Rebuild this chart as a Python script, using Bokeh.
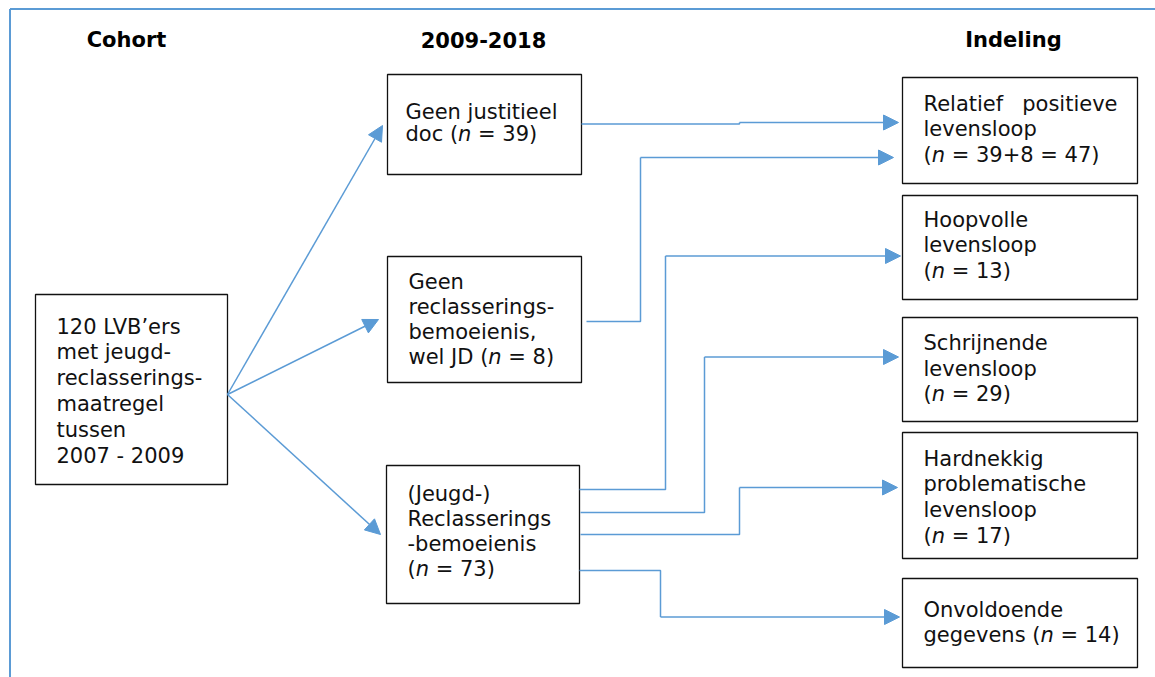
from bokeh.plotting import figure
from bokeh.models import Range1d, Arrow, NormalHead, ColumnDataSource
from bokeh.core.properties import value
from bokeh.embed import file_html
from bokeh.resources import INLINE

# ---------------- data ----------------
column_headers = ["Cohort", "2009-2018", "Indeling"]
cohort_size = 120
cohort_lines = [f"{cohort_size} LVB’ers", "met jeugd-", "reclasserings-",
                "maatregel", "tussen", "2007 - 2009"]
period_n = [39, 8, 73]
period_lines = [
    ["Geen justitieel", "doc (*n* = {})"],
    ["Geen", "reclasserings-", "bemoeienis,", "wel JD (*n* = {})"],
    ["(Jeugd-)", "Reclasserings", "-bemoeienis", "(*n* = {})"],
]
outcome_n = [47, 13, 29, 17, 14]
outcome_lines = [
    ["Relatief|positieve", "levensloop", "(*n* = 39+8 = {})"],
    ["Hoopvolle", "levensloop", "(*n* = {})"],
    ["Schrijnende", "levensloop", "(*n* = {})"],
    ["Hardnekkig", "problematische", "levensloop", "(*n* = {})"],
    ["Onvoldoende", "gegevens (*n* = {})"],
]
flows = [(0, 0), (1, 0), (2, 1), (2, 2), (2, 3), (2, 4)]

# ---------------- layout (pixel space) ----------------
FONT = "DejaVu Sans"
FS = 21
BLUE = "#5b9bd5"
TEXT_DY = -7
header_x = [126, 483, 1013]
header_y = 46
cohort_box = (35, 294, 227, 484)
cohort_text = (56, 333, 25.9)
period_boxes = [(387, 74, 581, 174), (387, 256, 581, 382), (386, 465, 579, 603)]
period_text = [(405, 118.5, 22), (408, 288, 25.3), (407, 500, 25)]
outcome_boxes = [(902, 77, 1137, 183), (902, 195, 1137, 299), (902, 317, 1137, 421),
                 (902, 432, 1137, 558), (902, 578, 1137, 667)]
outcome_text = [(923, 110, 25.8), (923, 226, 25.5), (923, 349.5, 25.5),
                (923, 465, 25.7), (923, 616, 25.7)]
justify_right = 1117
fan_origin = (227, 394)
fan_tips = [(382, 125), (378, 319), (380, 534)]
routes = [
    [(581, 123.5), (739, 123.5), (739, 122), (898, 122)],
    [(586, 321), (640, 321), (640, 157), (893, 157)],
    [(579, 489), (665, 489), (665, 255.5), (900, 255.5)],
    [(580, 512), (704, 512), (704, 356.5), (898, 356.5)],
    [(580, 534), (739, 534), (739, 487), (897, 487)],
    [(579, 570), (660, 570), (660, 616.5), (899, 616.5)],
]

# DejaVu Sans advance widths (units per 2048 em)
ADV = {" ": 651, "(": 799, ")": 799, "c": 1126, "d": 1300, "e": 1260, "g": 1300,
       "l": 569, "n": 1298, "o": 1253, "s": 1067, "v": 1212, "w": 1675,
       "D": 1577, "J": 604, "=": 1716, "+": 1716}


def tw(s):
    return sum(ADV.get(ch, 1303) for ch in s) / 2048.0 * FS


W, H = 1155, 677
p = figure(width=W, height=H, x_range=Range1d(0, W), y_range=Range1d(H, 0),
           output_backend="svg", toolbar_location=None,
           x_axis_location=None, y_axis_location=None, min_border=0)
p.grid.visible = False
p.outline_line_color = None
p.background_fill_color = "white"
p.border_fill_color = "white"

# outer frame (left + top)
p.line([9.5, 9.5], [H, 8.5], line_color=BLUE, line_width=2)
p.line([9.5, W], [8.5, 8.5], line_color=BLUE, line_width=2)

# boxes
all_boxes = [cohort_box] + period_boxes + outcome_boxes
p.quad(left=[b[0] for b in all_boxes], top=[b[1] for b in all_boxes],
       right=[b[2] for b in all_boxes], bottom=[b[3] for b in all_boxes],
       fill_color="white", line_color="#111111", line_width=1.3)

# texts
segs = {"normal": dict(x=[], y=[], t=[]), "italic": dict(x=[], y=[], t=[]),
        "right": dict(x=[], y=[], t=[])}


def add_line(x, y, s):
    y = y + TEXT_DY
    if "|" in s:
        a, b = s.split("|")
        segs["normal"]["x"].append(x); segs["normal"]["y"].append(y); segs["normal"]["t"].append(a)
        segs["right"]["x"].append(justify_right); segs["right"]["y"].append(y); segs["right"]["t"].append(b)
        return
    cx = x
    for i, part in enumerate(s.split("*")):
        if not part:
            continue
        stripped = part.lstrip(" ")
        cx += tw(part[: len(part) - len(stripped)])
        key = "italic" if i % 2 else "normal"
        segs[key]["x"].append(cx); segs[key]["y"].append(y); segs[key]["t"].append(stripped)
        cx += tw(stripped)


def add_block(lines, layout, n=None):
    x, y0, step = layout
    for k, ln in enumerate(lines):
        add_line(x, y0 + k * step, ln.format(n) if n is not None else ln)


add_block(cohort_lines, cohort_text)
for lines, lay, n in zip(period_lines, period_text, period_n):
    add_block(lines, lay, n)
for lines, lay, n in zip(outcome_lines, outcome_text, outcome_n):
    add_block(lines, lay, n)

common = dict(text_font=value(FONT), text_font_size=f"{FS}px", text_color="#111111",
              text_baseline="alphabetic")
p.text(x="x", y="y", text="t", source=ColumnDataSource(segs["normal"]), text_align="left", **common)
p.text(x="x", y="y", text="t", source=ColumnDataSource(segs["italic"]), text_align="left",
       text_font_style="italic", **common)
p.text(x="x", y="y", text="t", source=ColumnDataSource(segs["right"]), text_align="right", **common)

# headers
p.text(x=header_x, y=[header_y + TEXT_DY] * 3, text=column_headers, text_align="center",
       text_font_style="bold", text_font=value(FONT), text_font_size=f"{FS}px",
       text_color="black", text_baseline="alphabetic")

# fan arrows from cohort box
for tx, ty in fan_tips:
    p.add_layout(Arrow(end=NormalHead(size=15, fill_color=BLUE, line_color=BLUE, line_width=1),
                       x_start=fan_origin[0], y_start=fan_origin[1], x_end=tx, y_end=ty,
                       line_color=BLUE, line_width=1.5))

# elbow connectors
for (src, dst), route in zip(flows, routes):
    xs = [pt[0] for pt in route[:-1]]
    ys = [pt[1] for pt in route[:-1]]
    p.line(xs, ys, line_color=BLUE, line_width=1.5)
    p.add_layout(Arrow(end=NormalHead(size=15, fill_color=BLUE, line_color=BLUE, line_width=1),
                       x_start=route[-2][0], y_start=route[-2][1],
                       x_end=route[-1][0], y_end=route[-1][1],
                       line_color=BLUE, line_width=1.5))

open("out.html", "w").write(file_html(p, INLINE))
